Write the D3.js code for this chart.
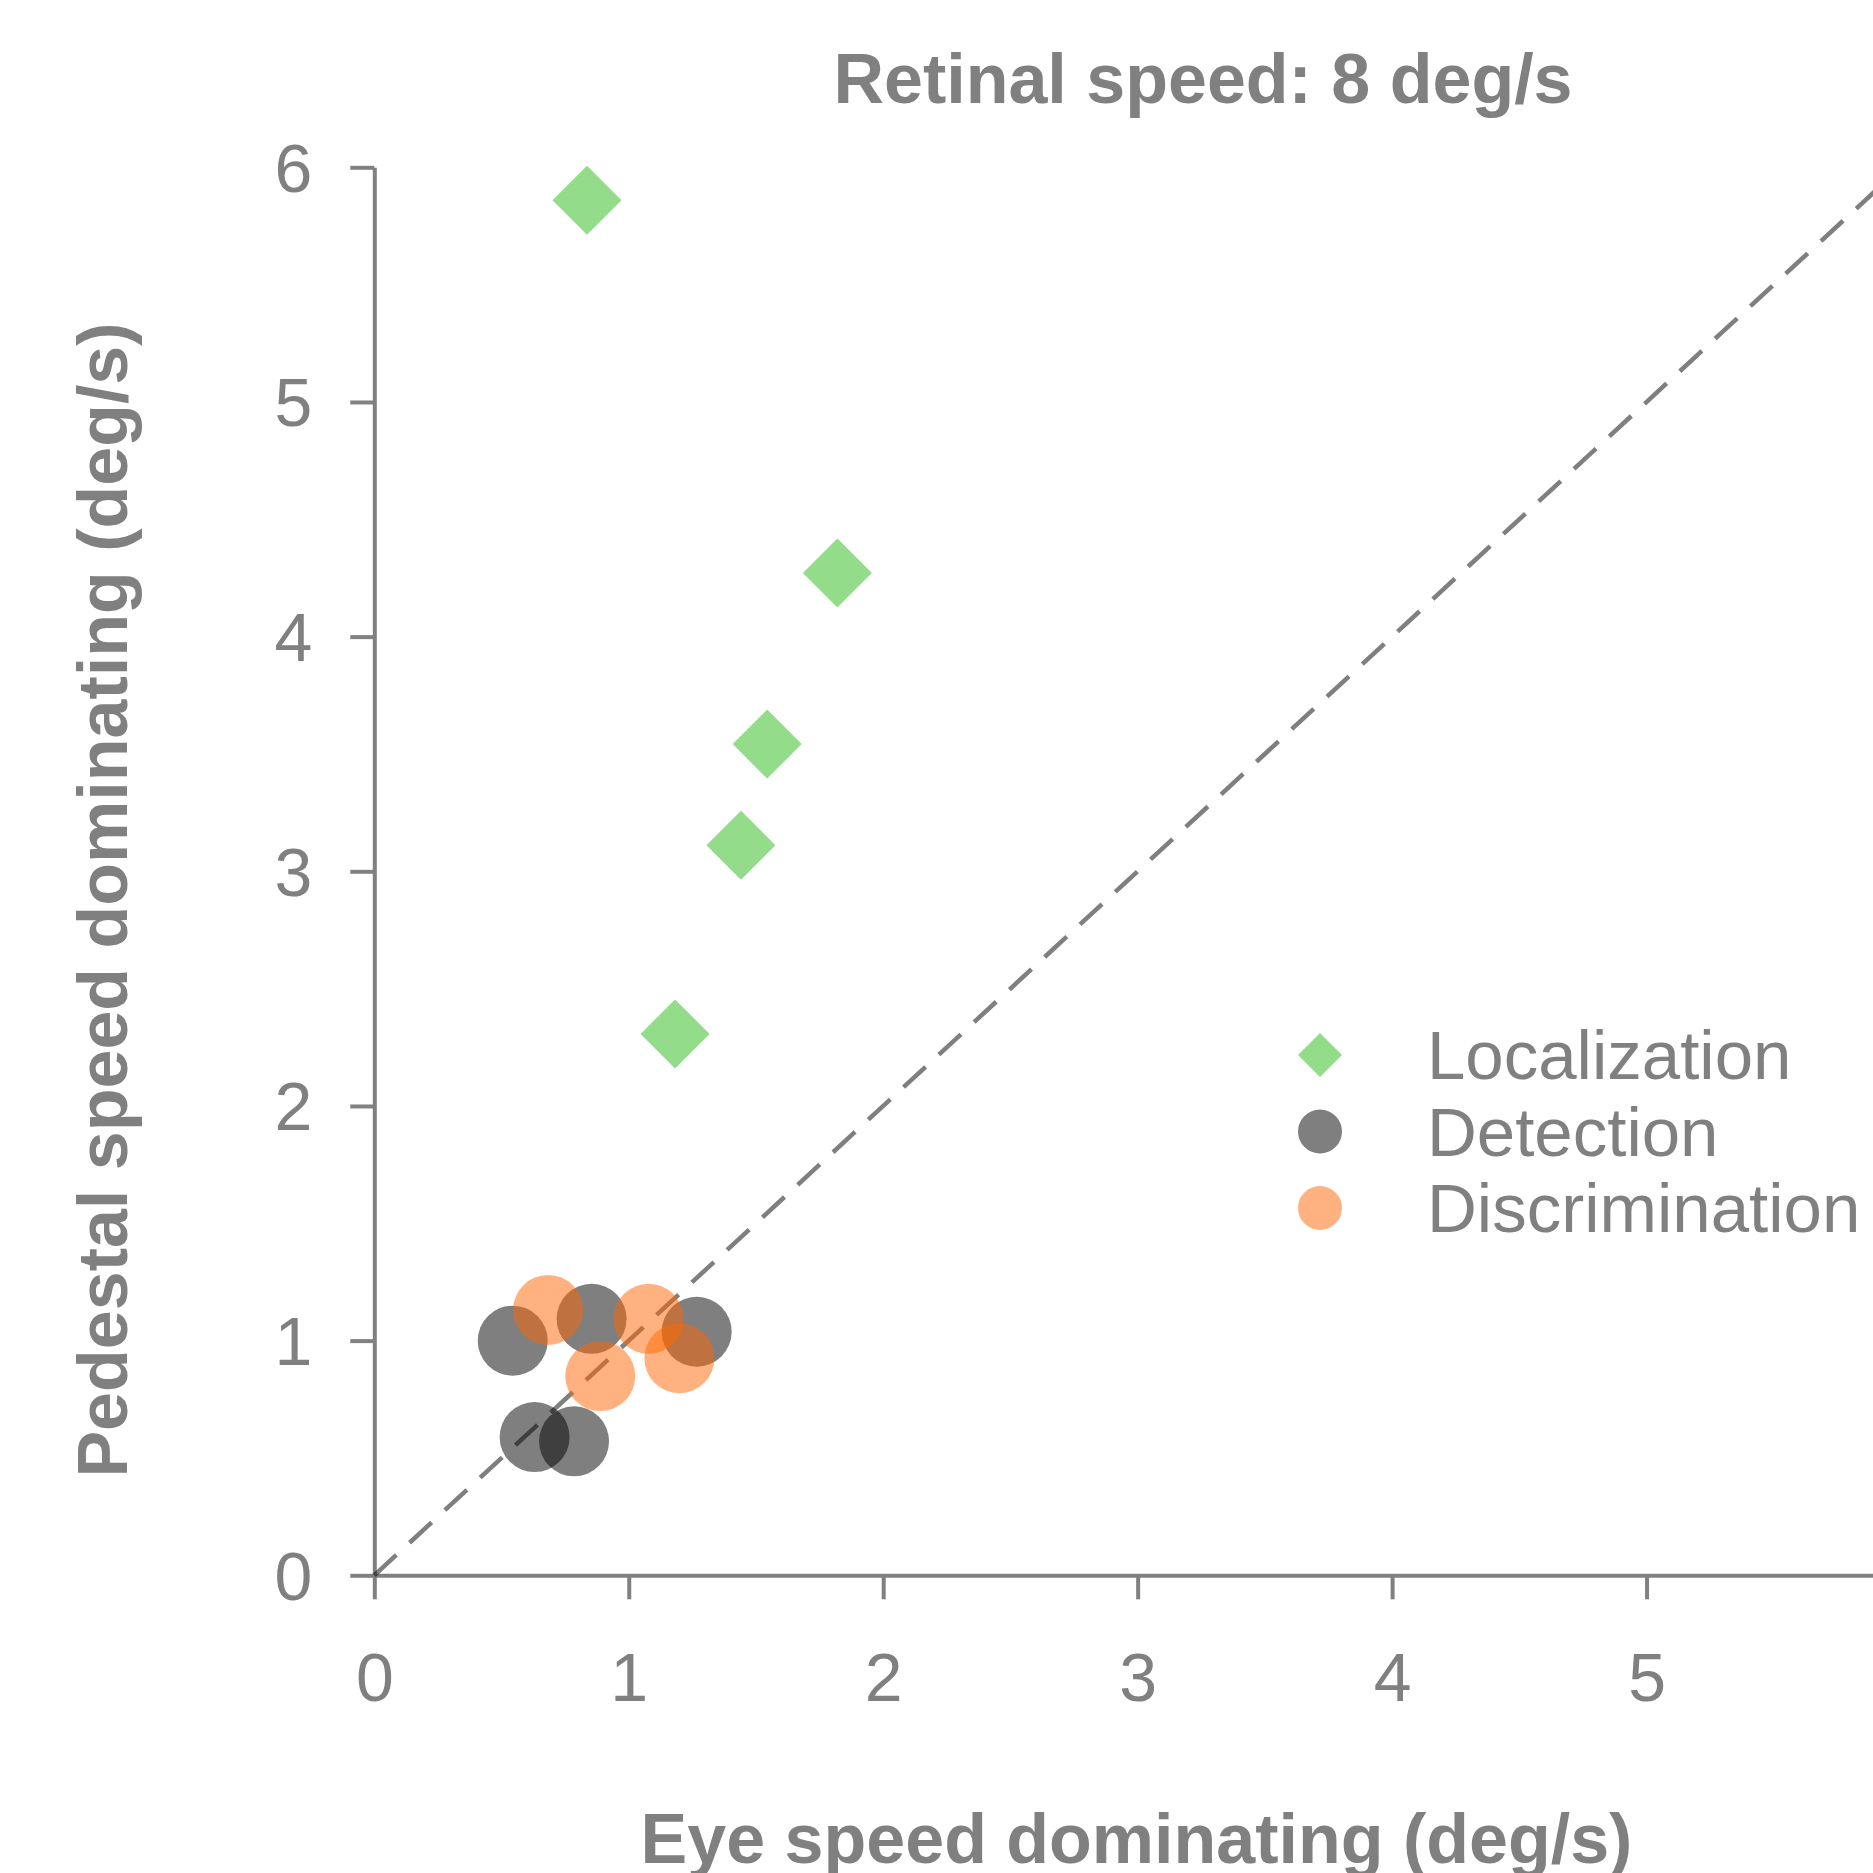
<!DOCTYPE html>
<html>
<head>
<meta charset="utf-8">
<script src="https://cdn.jsdelivr.net/npm/d3@7"></script>
<style>
  html, body { margin: 0; padding: 0; background: #fff; }
  svg { display: block; }
  text { font-family: "Liberation Sans", Arial, sans-serif; fill: #808080; }
</style>
</head>
<body>
<svg id="chart" width="1873" height="1873"></svg>
<script>
// ---- data ----
const titleText = "Retinal speed: 8 deg/s";
const xLabel = "Eye speed dominating (deg/s)";
const yLabel = "Pedestal speed dominating (deg/s)";
const xTicks = [0, 1, 2, 3, 4, 5];
const yTicks = [0, 1, 2, 3, 4, 5, 6];
const seriesNames = ["Localization", "Detection", "Discrimination"];

const localizationX = [0.836, 1.820, 1.544, 1.441, 1.182];
const localizationY = [5.860, 4.271, 3.542, 3.111, 2.307];

const detectionX = [0.544, 0.854, 1.267, 0.630, 0.785];
const detectionY = [1.000, 1.093, 1.038, 0.589, 0.571];

const discriminationX = [0.683, 1.078, 1.199, 0.888];
const discriminationY = [1.131, 1.093, 0.925, 0.849];

const identityLine = [[0, 0], [6, 6]];

// ---- layout ----
const svg = d3.select("#chart");
const axisColor = "#808080";
const x = d3.scaleLinear().domain([0, 6]).range([374.3, 1901]);
const y = d3.scaleLinear().domain([0, 6]).range([1575.3, 167.3]);

// title
svg.append("text")
  .attr("x", 1203).attr("y", 102.7)
  .attr("text-anchor", "middle")
  .style("font-size", "70px").style("font-weight", "bold")
  .text(titleText);

// axes
const yAxis = svg.append("g")
  .attr("transform", `translate(${x(0)},0)`)
  .call(d3.axisLeft(y).tickValues(yTicks).tickFormat(d3.format("d"))
        .tickSize(24).tickSizeOuter(0).tickPadding(38));
const xAxis = svg.append("g")
  .attr("transform", `translate(0,${y(0)})`)
  .call(d3.axisBottom(x).tickValues(xTicks).tickFormat(d3.format("d"))
        .tickSize(24).tickSizeOuter(0));

[xAxis, yAxis].forEach(g => {
  g.selectAll("path.domain").attr("stroke", axisColor).attr("stroke-width", 4);
  g.selectAll(".tick line").attr("stroke", axisColor).attr("stroke-width", 4);
  g.selectAll(".tick text")
    .style("font-size", "68px")
    .style("font-family", "'Liberation Sans', Arial, sans-serif")
    .attr("fill", axisColor);
});
yAxis.selectAll(".tick text").attr("dy", "0.35em");
xAxis.selectAll(".tick text").attr("y", 126).attr("dy", 0);

// axis labels
svg.append("text")
  .attr("x", 1136.5).attr("y", 1863)
  .attr("text-anchor", "middle")
  .style("font-size", "70px").style("font-weight", "bold")
  .text(xLabel);
svg.append("text")
  .attr("transform", "translate(127,900) rotate(-90)")
  .attr("text-anchor", "middle")
  .style("font-size", "70px").style("font-weight", "bold")
  .text(yLabel);

// identity dashed line
svg.append("path")
  .datum(identityLine)
  .attr("d", d3.line().x(d => x(d[0])).y(d => y(d[1])))
  .attr("fill", "none")
  .attr("stroke", "#000").attr("stroke-opacity", 0.5)
  .attr("stroke-width", 4.5)
  .attr("stroke-dasharray", "30,18");

// markers
const diamondPath = (cx, cy, h) => `M${cx},${cy - h}L${cx + h},${cy}L${cx},${cy + h}L${cx - h},${cy}Z`;
const greenFill = "#92dc8a";

svg.append("g").selectAll("circle")
  .data(detectionX.map((v, i) => [v, detectionY[i]]))
  .join("circle")
  .attr("cx", d => x(d[0])).attr("cy", d => y(d[1])).attr("r", 35)
  .attr("fill", "#000").attr("fill-opacity", 0.5);

svg.append("g").selectAll("circle")
  .data(discriminationX.map((v, i) => [v, discriminationY[i]]))
  .join("circle")
  .attr("cx", d => x(d[0])).attr("cy", d => y(d[1])).attr("r", 35)
  .attr("fill", "#ff6600").attr("fill-opacity", 0.5);

svg.append("g").selectAll("path")
  .data(localizationX.map((v, i) => [v, localizationY[i]]))
  .join("path")
  .attr("d", d => diamondPath(x(d[0]), y(d[1]), 34.5))
  .attr("fill", greenFill);

// legend
const legendX = 1320, legendTextX = 1427;
const legendY = [1055, 1131.5, 1208];
const lg = svg.append("g");
lg.append("path").attr("d", diamondPath(legendX, legendY[0], 22)).attr("fill", greenFill);
lg.append("circle").attr("cx", legendX).attr("cy", legendY[1]).attr("r", 22)
  .attr("fill", "#000").attr("fill-opacity", 0.5);
lg.append("circle").attr("cx", legendX).attr("cy", legendY[2]).attr("r", 22)
  .attr("fill", "#ff6600").attr("fill-opacity", 0.5);
seriesNames.forEach((name, i) => {
  lg.append("text")
    .attr("x", legendTextX).attr("y", legendY[i]).attr("dy", "0.35em")
    .style("font-size", "69px")
    .text(name);
});
</script>
</body>
</html>
